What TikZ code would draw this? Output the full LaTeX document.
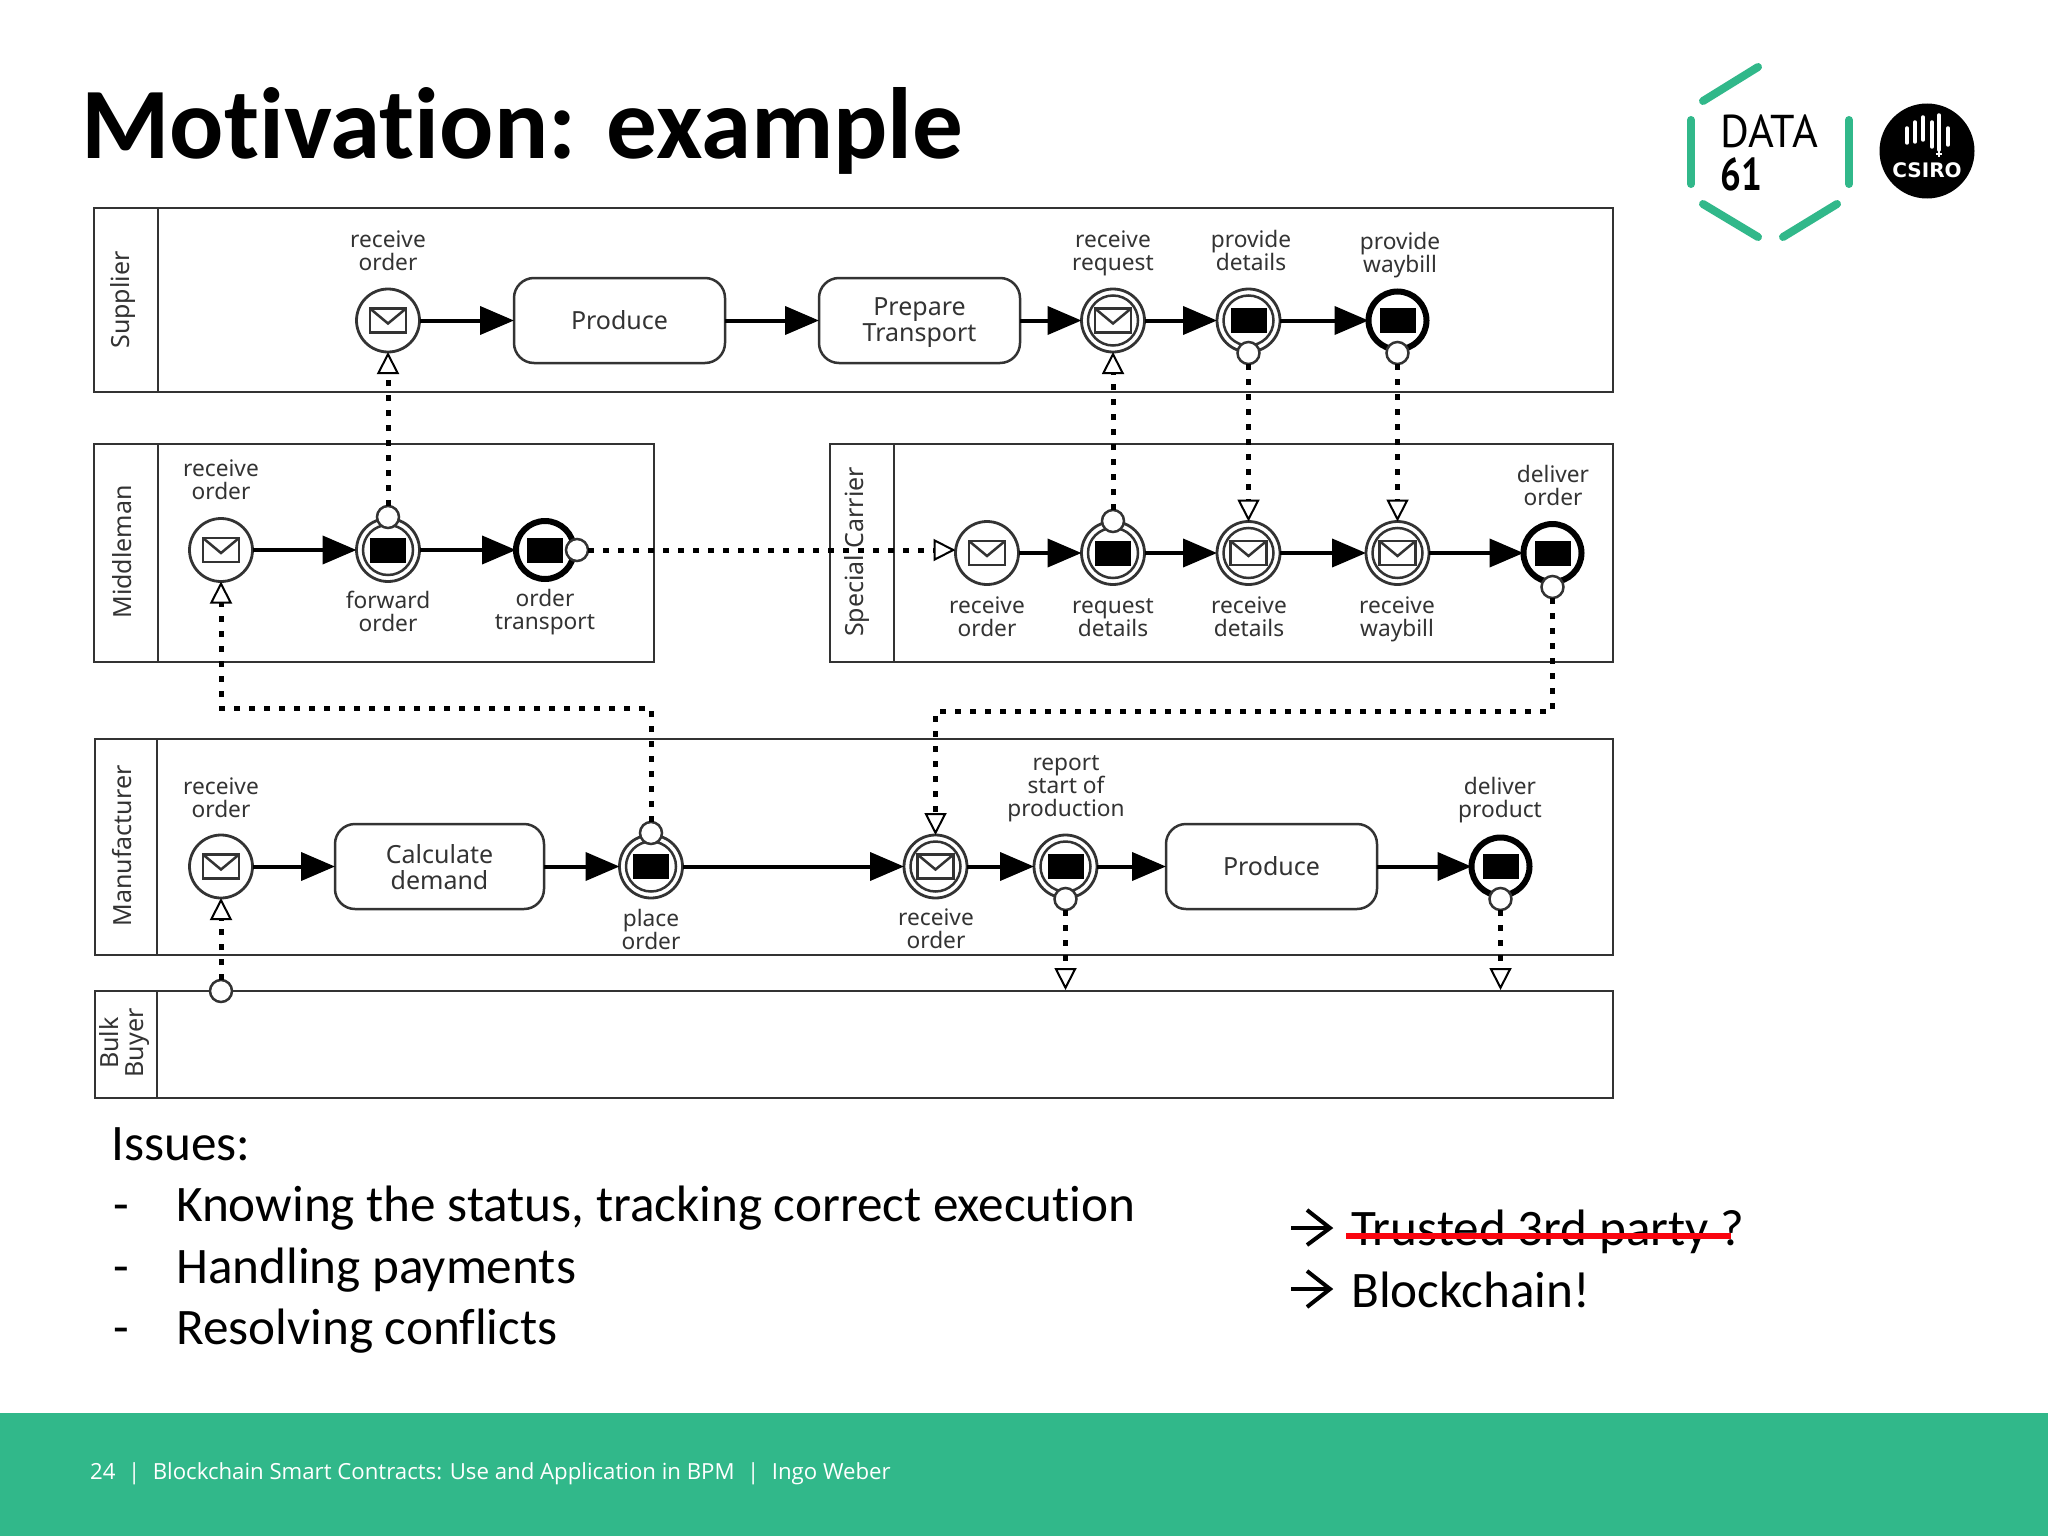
\documentclass[tikz,border=0pt]{standalone}
\usepackage{fontspec}
\setmainfont[Ligatures=NoCommon]{Carlito}
\newfontfamily\lab{Noto Sans}
\newfontfamily\foot{Open Sans}
\newfontfamily\logo{PT Sans}
\newfontfamily\seal{DejaVu Sans}
\usetikzlibrary{arrows.meta}
\definecolor{green}{RGB}{49,184,138}
\definecolor{ink}{RGB}{51,51,51}
\definecolor{strike}{RGB}{250,5,15}
\newcommand{\envpic}{\draw[line width=2.5pt,ink,fill=white] (-18pt,-12pt) rectangle (18pt,12pt);
  \draw[line width=2.5pt,ink] (-18pt,12pt) -- (0pt,-3pt) -- (18pt,12pt);}
\newcommand{\blackpic}{\fill[black] (-18pt,-12.5pt) rectangle (18pt,12.5pt);}
\newcommand{\ringpic}{\draw[line width=2.5pt,ink] (0pt,0pt) circle (25pt);}
\newcommand{\footbar}{\hspace{12.5pt}|\hspace{12.5pt}}
\tikzset{
  x=1pt,y=-1pt,
  pool/.style={draw=ink,line width=2.8pt,fill=white,inner sep=0pt,outer sep=0pt},
  poolsep/.style={draw=ink,line width=2.8pt},
  poolname/.style={font=\lab\fontsize{25}{25}\selectfont,text=ink,rotate=90,align=center,inner sep=0pt},
  lbl/.style={font=\lab\fontsize{22.7}{23}\selectfont,text=ink,align=center,inner sep=0pt},
  task/.style={draw=ink,line width=2.5pt,fill=white,rounded corners=20pt,minimum width=211pt,minimum height=85pt,
    inner sep=0pt,outer sep=0pt,align=center,font=\lab\fontsize{25}{26}\selectfont,text=ink},
  ev/.style={circle,draw=ink,line width=2.8pt,fill=white,minimum size=63pt,inner sep=0pt,outer sep=0pt},
  msgone/.style={ev,path picture={\begin{scope}[shift={(path picture bounding box.center)},y=1pt]\envpic\end{scope}}},
  msgtwo/.style={ev,path picture={\begin{scope}[shift={(path picture bounding box.center)},y=1pt]\ringpic\envpic\end{scope}}},
  blacktwo/.style={ev,path picture={\begin{scope}[shift={(path picture bounding box.center)},y=1pt]\ringpic\blackpic\end{scope}}},
  blackend/.style={ev,draw=black,line width=6pt,minimum size=58pt,path picture={\begin{scope}[shift={(path picture bounding box.center)},y=1pt]\blackpic\end{scope}}},
  dotc/.style={circle,draw=ink,line width=2.5pt,fill=white,minimum size=22pt,inner sep=0pt,outer sep=0pt},
  seqf/.style={draw=black,line width=4pt,-{Triangle[length=34pt,width=28pt]}},
  msgf/.style={draw=black,line width=5pt,dash pattern=on 6pt off 9pt,-{Triangle[open,fill=white,length=22pt,width=22pt,line width=2pt]}},
  hex/.style={draw=green,line width=8pt,line cap=round},
  body/.style={font=\fontsize{51.2}{51}\selectfont,anchor=base west,inner sep=0pt},
}
\begin{document}
\begin{tikzpicture}
\useasboundingbox (0,0) rectangle (2048,1536);
\fill[white] (0,0) rectangle (2048,1536);
\fill[green] (0,1413) rectangle (2048,1536);

% title and footer
\node[font=\bfseries\fontsize{101.2}{101}\selectfont,anchor=base west,inner sep=0pt] (title) at (81,158) {Motivation: example};
\node[font=\foot\fontsize{22.2}{23}\selectfont,text=white,anchor=base west,inner sep=0pt] (foot) at (90,1479)
  {24\footbar Blockchain Smart Contracts: Use and Application in BPM\footbar Ingo Weber};

% logos
\draw[hex] (1703,101) -- (1758,67);
\draw[hex] (1691,120) -- (1691,184);
\draw[hex] (1849,120) -- (1849,184);
\draw[hex] (1703,204) -- (1758,237);
\draw[hex] (1783,237) -- (1837,204);
\node[font=\logo\fontsize{46}{46}\selectfont,xscale=.96,anchor=base west,inner sep=0pt] (data) at (1720,147) {DATA};
\node[font=\logo\bfseries\fontsize{46}{46}\selectfont,xscale=.8,anchor=base west,inner sep=0pt] (six) at (1720,190) {61};
\fill[black] (1927,151) circle (47.5);
\draw[white,line width=3.5pt,line cap=round]
  (1907,128) -- (1907,143) (1915,122) -- (1915,142) (1923,117) -- (1923,140)
  (1932,122) -- (1932,147) (1939,115) -- (1939,150) (1948,128) -- (1948,145);
\draw[white,line width=1.5pt] (1936,154) -- (1942,154) (1939,151) -- (1939,157);
\node[font=\seal\bfseries\fontsize{20}{20}\selectfont,text=white,anchor=base,inner sep=0pt] (csiro) at (1927,177) {CSIRO};

% pools
\node[pool,minimum width=1519pt,minimum height=184pt] (sup) at (853.5,300) {};
\node[pool,minimum width=560pt,minimum height=218pt] (mid) at (374,553) {};
\node[pool,minimum width=783pt,minimum height=218pt] (car) at (1221.5,553) {};
\node[pool,minimum width=1518pt,minimum height=216pt] (man) at (854,847) {};
\node[pool,minimum width=1518pt,minimum height=107pt] (bulk) at (854,1044.5) {};
\draw[poolsep] ([xshift=64pt]sup.north west) -- ([xshift=64pt]sup.south west);
\draw[poolsep] ([xshift=64pt]mid.north west) -- ([xshift=64pt]mid.south west);
\draw[poolsep] ([xshift=64pt]car.north west) -- ([xshift=64pt]car.south west);
\draw[poolsep] ([xshift=62pt]man.north west) -- ([xshift=62pt]man.south west);
\draw[poolsep] ([xshift=62pt]bulk.north west) -- ([xshift=62pt]bulk.south west);
\node[poolname] (nsup) at (123,300) {Supplier};
\node[poolname] (nmid) at (122,552) {Middleman};
\node[poolname] (ncar) at (857,552) {Special Carrier};
\node[poolname] (nman) at (122,846) {Manufacturer};
\node[poolname] (nbulk) at (124.5,1043) {Bulk\\Buyer};

% supplier row
\node[msgone] (s1) at (388,320.5) {};
\node[task] (s2) at (619.5,320.5) {Produce};
\node[task,minimum width=201pt] (s3) at (919.5,320.5) {};
\node[lbl,font=\lab\fontsize{25}{26}\selectfont] (s3t) at (919.5,323) {Prepare\\Transport};
\node[msgtwo] (s4) at (1113,320.5) {};
\node[blacktwo] (s5) at (1248.5,320.5) {};
\node[blackend] (s6) at (1397.5,320.5) {};
% middleman row
\node[msgone] (m1) at (221,550) {};
\node[blacktwo] (m2) at (388,550) {};
\node[blackend] (m3) at (545,550) {};
% carrier row
\node[msgone] (c1) at (987,553) {};
\node[blacktwo] (c2) at (1113,553) {};
\node[msgtwo] (c3) at (1248.5,553) {};
\node[msgtwo] (c4) at (1397.5,553) {};
\node[blackend] (c5) at (1552.5,553) {};
% manufacturer row
\node[msgone] (f1) at (221,866.5) {};
\node[task,minimum width=209pt] (f2) at (439.5,866.5) {};
\node[lbl,font=\lab\fontsize{25}{26}\selectfont] (f2t) at (439.5,867) {Calculate\\demand};
\node[blacktwo] (f3) at (651,866.5) {};
\node[msgtwo] (f4) at (935.5,866.5) {};
\node[blacktwo] (f5) at (1065.5,866.5) {};
\node[task] (f6) at (1271.5,866.5) {Produce};
\node[blackend] (f7) at (1500.5,866.5) {};

% labels
\node[lbl] (l1) at (388,251) {receive\\order};
\node[lbl] (l2) at (1113,253) {receive\\request};
\node[lbl] (l3) at (1251,250) {provide\\details};
\node[lbl] (l4) at (1400,255) {provide\\waybill};
\node[lbl] (l5) at (221,480) {receive\\order};
\node[lbl] (l6) at (388,611) {forward\\order};
\node[lbl] (l7) at (545,612) {order\\transport};
\node[lbl] (l8) at (987,617) {receive\\order};
\node[lbl] (l9) at (1113,618) {request\\details};
\node[lbl] (l10) at (1249,617) {receive\\details};
\node[lbl] (l11) at (1397,619) {receive\\waybill};
\node[lbl] (l12) at (1553,485) {deliver\\order};
\node[lbl] (l13) at (221,798) {receive\\order};
\node[lbl] (l14) at (651,929) {place\\order};
\node[lbl] (l15) at (936,929) {receive\\order};
\node[lbl] (l16) at (1066,789) {report\\start of\\production};
\node[lbl] (l17) at (1500,800) {deliver\\product};

% message-flow end circles
\node[dotc] (d1) at (388,517) {};
\node[dotc] (d2) at (577,550) {};
\node[dotc] (d3) at (1113,521) {};
\node[dotc] (d4) at (1248.5,353) {};
\node[dotc] (d5) at (1397.5,353) {};
\node[dotc] (d6) at (1552.5,587) {};
\node[dotc] (d7) at (651,833) {};
\node[dotc] (d8) at (1065.5,899) {};
\node[dotc] (d9) at (1500.5,899) {};
\node[dotc] (d10) at (221,991) {};
\coordinate (b1) at (1065.5,990);
\coordinate (b2) at (1500.5,990);
\coordinate (e1) at (651,708);
\coordinate (e2) at (221,708);
\coordinate (e3) at (1552.5,711);
\coordinate (e4) at (935.5,711);

% sequence flows
\foreach \a/\b in {s1/s2,s2/s3,s3/s4,s4/s5,s5/s6,m1/m2,m2/m3,c1/c2,c2/c3,c3/c4,c4/c5,f1/f2,f2/f3,f3/f4,f4/f5,f5/f6,f6/f7}
  \draw[seqf] (\a) -- (\b);

% message flows
\draw[msgf] (d1) -- (s1);
\draw[msgf] (d2) -- (d2 -| c1.west);
\draw[msgf] (d3) -- (s4);
\draw[msgf] (d4) -- (c3);
\draw[msgf] (d5) -- (c4);
\draw[msgf] (d7.north) -- (e1) -- (e2) -- (m1.south);
\draw[msgf] (d6.south) -- (e3) -- (e4) -- (f4.north);
\draw[msgf] (d8) -- (b1);
\draw[msgf] (d9) -- (b2);
\draw[msgf] (d10) -- (f1);

% issues text
\node[body] (i0) at (111,1160) {Issues:};
\node[body] (i1d) at (113,1221) {-};
\node[body] (i1) at (176,1221) {Knowing the status, tracking correct execution};
\node[body] (i2d) at (113,1283) {-};
\node[body] (i2) at (176,1283) {Handling payments};
\node[body] (i3d) at (113,1344) {-};
\node[body] (i3) at (176,1344) {Resolving conflicts};

% conclusions
\draw[black,line width=4pt] (1291,1228) -- (1330,1228);
\draw[black,line width=4pt] (1307,1210) -- (1330,1228) -- (1307,1245);
\draw[black,line width=4pt] (1291,1289) -- (1330,1289);
\draw[black,line width=4pt] (1307,1271) -- (1330,1289) -- (1307,1307);
\node[body] (t1) at (1351,1245) {Trusted 3rd party ?};
\node[body] (t2) at (1351,1307) {Blockchain!};
\draw[strike,line width=6.5pt] (1346,1236) -- (1731,1236);
\end{tikzpicture}
\end{document}
